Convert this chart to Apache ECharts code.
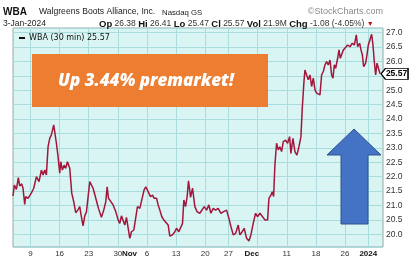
<!DOCTYPE html>
<html><head><meta charset="utf-8">
<script src="https://cdn.jsdelivr.net/npm/echarts@6/dist/echarts.min.js"></script>
<style>html,body{margin:0;padding:0;background:#fff}#c{width:416px;height:275px}</style>
</head><body><div id="c"></div>
<script>
// trading-day index (0 = Oct 4 2023 open)
const days = [0,0.23,0.58,0.92,1.15,1.49,1.72,2.01,2.18,2.58,3.16,3.56,4.02,4.47,4.87,5.16,5.45,5.73,6.02,6.31,6.59,6.76,6.99,7.16,7.45,7.74,8.02,8.20,8.48,8.77,9.05,9.34,9.74,10.09,10.43,10.77,11.12,11.46,11.69,12.03,12.32,12.61,12.89,13.18,13.46,13.75,14.04,14.44,14.67,14.90,15.18,15.58,15.93,16.16,16.39,16.73,17.19,17.65,18.05,18.33,18.62,18.91,19.19,19.48,19.77,20.05,20.34,20.74,21.08,21.37,21.77,22.17,22.51,22.80,23.20,23.60,23.95,24.24,24.64,24.92,25.21,25.55,25.90,26.24,26.64,26.92,27.38,27.78,28.07,28.47,28.81,29.10,29.33,29.62,29.90,30.13,30.48,30.82,31.22,31.62,32.08,
32.37,32.83,33.23,33.63,33.97,34.37,34.77,35.23,35.69,36.09,36.66,37.06,37.41,37.81,38.21,38.67,38.95,39.35,39.69,40.10,40.50,40.84,41.24,41.64,41.98,42.39,42.85,43.25,43.71,43.94,44.28,44.51,44.74,44.96,45.25,45.54,45.82,46.11,46.40,46.80,47.14,47.49,47.71,48.06,48.40,48.74,49.09,49.43,49.66,49.95,50.12,50.41,50.69,50.98,51.27,51.55,51.84,52.13,52.41,52.70,52.98,53.27,53.56,53.84,54.13,54.42,54.70,54.93,55.16,55.39,55.73,55.96,56.19,56.42,56.71,57.00,57.45,57.85,58.25,58.60,58.94,59.17,59.51,59.74,59.97,60.20,60.54,60.77,61.00,61.28,61.57,61.80,62.03,62.26,62.49,62.72,63.01];
const prices = [21.33,21.71,21.56,21.97,21.68,21.75,21.60,21.04,21.31,21.25,21.44,21.60,22.00,21.83,22.23,22.06,22.23,22.06,23.04,23.33,23.45,23.48,23.80,23.83,23.16,22.69,22.12,22.52,22.23,22.40,22.29,22.52,22.29,21.42,21.13,20.75,20.84,20.96,20.67,20.29,20.64,20.78,20.84,21.83,21.86,21.60,21.54,21.08,20.90,20.96,20.59,20.84,21.13,21.65,21.25,21.19,21.02,20.78,20.50,20.38,20.64,20.61,20.32,20.59,20.61,19.86,20.09,20.15,20.21,20.96,20.90,21.25,21.54,21.65,21.48,21.31,21.36,21.25,21.25,21.02,20.84,20.61,20.50,20.44,20.32,19.94,19.98,20.09,20.21,20.09,20.09,20.38,21.19,20.96,21.31,21.86,21.28,21.60,20.96,20.78,20.73,
20.67,20.96,20.84,21.02,20.73,20.90,20.84,20.90,20.73,20.78,20.84,20.56,20.27,19.98,20.03,20.32,19.98,20.09,20.21,19.86,19.77,19.98,20.38,20.73,20.61,20.73,20.61,20.50,20.50,21.25,21.36,21.48,21.31,22.40,23.16,22.93,23.04,22.87,23.22,23.27,23.16,23.39,22.81,23.33,22.87,22.75,23.04,23.39,24.37,25.30,25.70,25.53,25.36,25.53,25.13,25.42,25.01,24.90,24.95,24.84,25.53,25.65,25.88,25.99,25.88,26.05,25.53,25.42,25.88,25.76,26.11,26.40,26.11,26.17,26.40,26.46,26.57,26.51,26.63,26.57,26.92,26.51,26.63,26.40,26.23,25.82,25.94,26.23,26.57,26.75,26.94,26.57,25.99,25.53,25.94,25.88,25.57];
const tickDays = [3,8,13,18,20,23,28,33,37,41,47,52,57,61];
const tickLabels = ['9','16','23','30','Nov','6','13','20','27','Dec','11','18','26','2024'];
const boldLabels = ['Nov','Dec','2024'];
const gridDays = [3,8,13,18,23,28,33,37,42,47,52,57,61];
const lastPrice = '25.57';

const labelMap = {};
tickDays.forEach((d,i)=>{labelMap[d]=tickLabels[i];});

const chart = echarts.init(document.getElementById('c'), null, {renderer:'canvas'});
const F = '"Liberation Sans", Arial, sans-serif';
chart.setOption({
  animation:false,
  backgroundColor:'#ffffff',
  grid:{left:13,right:33,top:28,bottom:28,show:true,backgroundColor:'#d8f4f3',borderColor:'#9aa6a6',borderWidth:1},
  legend:{left:14,top:29,itemWidth:6,itemHeight:2,icon:'rect',itemGap:4,
    data:[{name:'WBA',itemStyle:{color:'#111'}}],
    formatter:()=> 'WBA (30 min) ' + lastPrice,
    textStyle:{fontFamily:'"DejaVu Sans", sans-serif',fontSize:8,color:'#111',padding:[0,0,0,-1]}},
  xAxis:{type:'value',min:0,max:63.52,
    axisLine:{show:false},
    axisTick:{show:false,customValues:gridDays},
    splitLine:{show:true,lineStyle:{color:'#a9dcdc',width:1}},
    axisLabel:{customValues:tickDays,margin:3,fontSize:8,fontFamily:F,color:'#333',
      formatter:v=>{const t=labelMap[v]; return boldLabels.indexOf(t)>=0?'{b|'+t+'}':t;},
      rich:{b:{fontWeight:'bold',fontSize:8,fontFamily:F,color:'#111'}}}},
  yAxis:{type:'value',position:'right',min:19.56,max:27.16,minInterval:0.5,maxInterval:0.5,splitNumber:15,
    axisLine:{show:false},axisTick:{show:false},
    splitLine:{show:true,lineStyle:{color:'#a9dcdc',width:1}},
    axisLabel:{showMinLabel:false,showMaxLabel:false,margin:3,fontSize:8.5,fontFamily:F,color:'#333',
      formatter:v=>v.toFixed(1)}},
  series:[{name:'WBA',type:'line',showSymbol:false,
    data:days.map((d,i)=>[d,prices[i]]),
    lineStyle:{color:'#a3163c',width:1.5},
    itemStyle:{color:'#a3163c'},
    markPoint:{silent:true,
      data:[{coord:[days[days.length-1],prices[prices.length-1]],
        symbol:'path://M0,5 L5,0 L30,0 L30,10 L5,10 Z',symbolSize:[27,11],symbolKeepAspect:false,symbolOffset:[14.5,0],
        itemStyle:{color:'#fff',borderColor:'#000',borderWidth:1},
        label:{show:true,position:'inside',offset:[2,0],formatter:lastPrice,fontWeight:'bold',fontSize:8.5,fontFamily:F,color:'#000'}}]}
  }],
  graphic:[
    {type:'text',z:50,x:3,y:12,style:{text:'WBA',font:'bold 10px '+F,fill:'#111',textVerticalAlign:'middle'}},
    {type:'text',z:50,x:39,y:12,style:{text:'Walgreens Boots Alliance, Inc.',font:'8.6px '+F,fill:'#222',textVerticalAlign:'middle'}},
    {type:'text',z:50,x:162,y:12.5,style:{text:'Nasdaq GS',font:'7.8px '+F,fill:'#222',textVerticalAlign:'middle'}},
    {type:'text',z:50,x:383,y:12,style:{text:'©StockCharts.com',font:'9px '+F,fill:'#8a8a8a',textAlign:'right',textVerticalAlign:'middle'}},
    {type:'text',z:50,x:3,y:24,style:{text:'3-Jan-2024',font:'8.5px '+F,fill:'#222',textVerticalAlign:'middle'}},
    {type:'text',z:50,x:99,y:24,style:{
      text:'{b|Op} 26.38 {b|Hi} 26.41 {b|Lo} 25.47 {b|Cl} 25.57 {b|Vol} 21.9M {b|Chg} -1.08 (-4.05%) {r|▼}',
      font:'8.5px '+F,fill:'#333',textVerticalAlign:'middle',
      rich:{b:{font:'bold 9.5px '+F,fill:'#111'},r:{font:'7px '+F,fill:'#d01010'}}}},
    {type:'rect',z:50,shape:{x:32,y:54,width:236,height:53},style:{fill:'#ed7d31'}},
    {type:'text',z:51,x:58,y:81,style:{text:'Up 3.44% premarket!',font:'italic 800 17px "Open Sans", sans-serif',fill:'#ffffff',textVerticalAlign:'middle'}},
    {type:'polygon',z:50,shape:{points:[[354,129],[381,155],[368,155],[368,224],[341,224],[341,155],[327,155]]},style:{fill:'#4472c4',stroke:'#2f528f',lineWidth:1}}
  ]
});
</script></body></html>
